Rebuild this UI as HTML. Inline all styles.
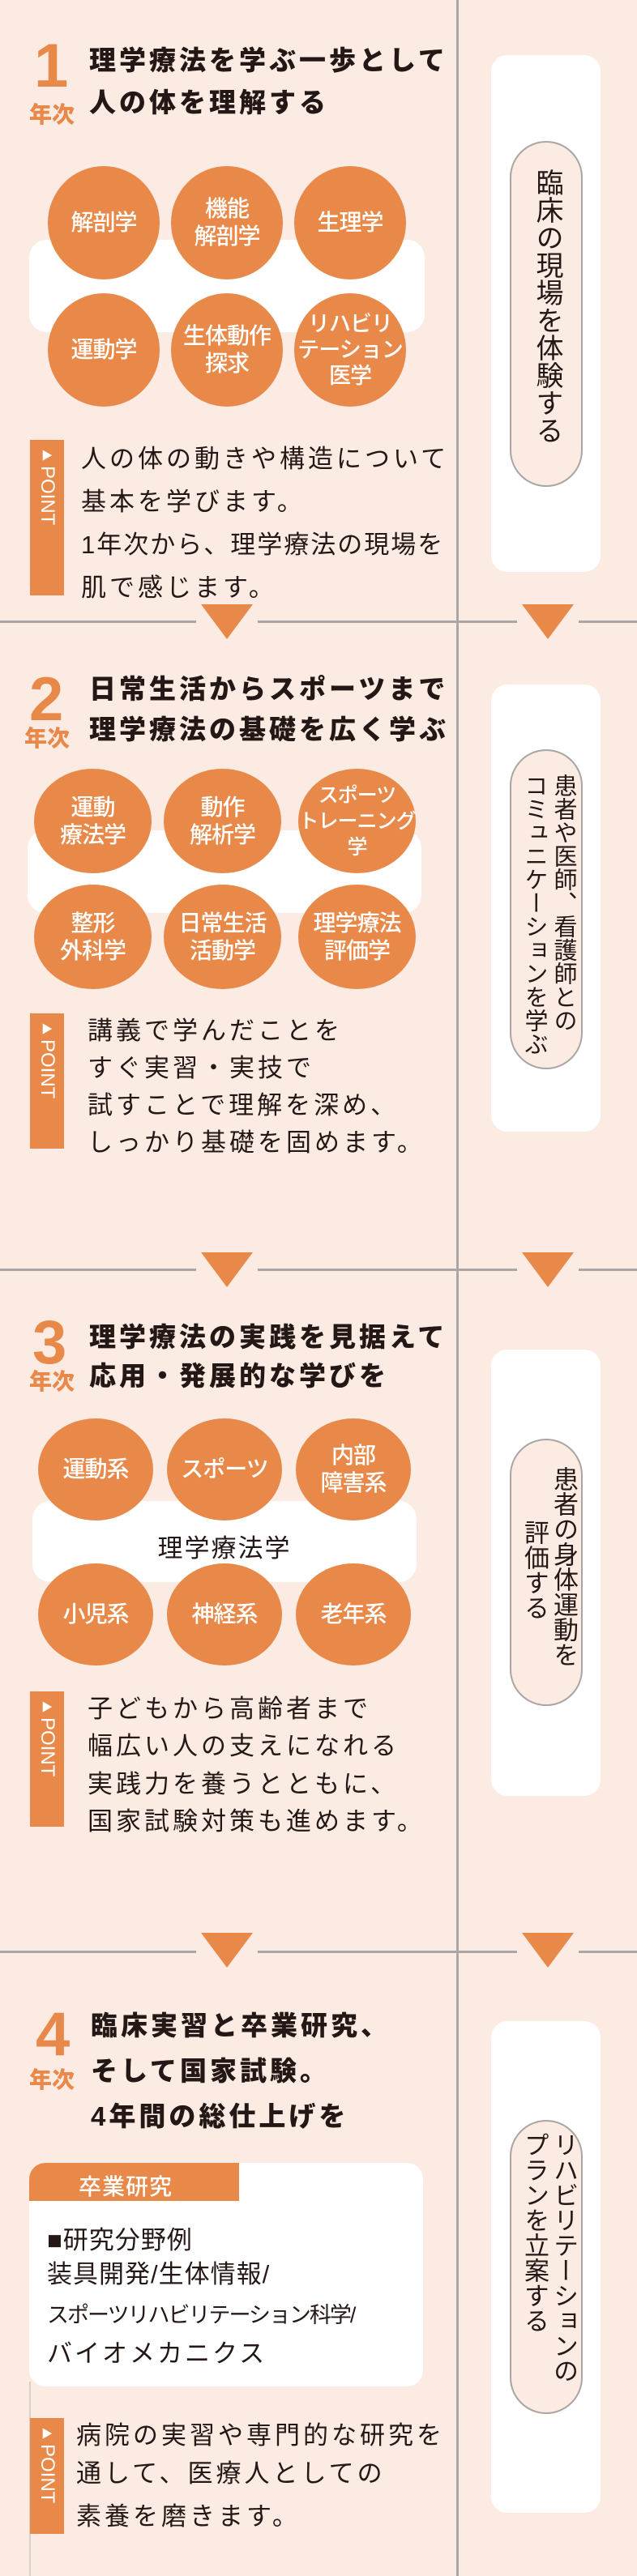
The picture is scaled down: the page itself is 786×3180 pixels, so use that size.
<!DOCTYPE html>
<html><head><meta charset="utf-8"><style>
*{margin:0;padding:0;box-sizing:border-box}
body{width:786px;height:3180px;background:#fcebe3;position:relative;overflow:hidden;font-family:"Liberation Sans","Noto Sans CJK JP",sans-serif;color:#231815}
.a{position:absolute}
.vd{position:absolute;left:563px;top:0;width:3px;height:3180px;background:#a9a6a5}
.hl{position:absolute;left:0;width:786px;height:3px;background:#a9a6a5}
.tri{position:absolute;width:0;height:0;border-left:32px solid transparent;border-right:32px solid transparent;border-top:43px solid #e8894a}
.trib{position:absolute;width:76px;height:48px;background:#fcebe3}
.num{position:absolute;color:#e8894a;font-weight:700;font-size:76px;line-height:1;font-family:"Liberation Sans",sans-serif}
.nen{position:absolute;color:#e8894a;font-weight:900;font-size:28px;line-height:1}
.tt{position:absolute;left:110px;font-weight:900;font-size:33px;letter-spacing:4px;line-height:1;white-space:nowrap}
.band{position:absolute;background:#fff;border-radius:22px}
.c{position:absolute;background:#e8894a;border-radius:50%;color:#fff;display:flex;align-items:center;justify-content:center;text-align:center;font-size:28px;line-height:34px;font-weight:500;white-space:nowrap;letter-spacing:-1px}
.pt{position:absolute;left:37px;width:42px;background:#e8894a;color:#fff;writing-mode:vertical-rl;font-size:24px;padding-top:12px;display:flex;align-items:center;line-height:42px}
.pt span{font-size:14px;margin-bottom:6px}
.tx{position:absolute;font-size:31px;letter-spacing:4px;white-space:nowrap}
.card{position:absolute;left:606px;width:135px;background:#fff;border-radius:20px}
.pill{position:absolute;left:629px;width:90px;border:2px solid #a8a5a3;border-radius:45px;background:#fcebe3}
.vt{position:absolute;writing-mode:vertical-rl;font-size:31px;width:34px;line-height:34px;white-space:nowrap}
</style></head><body>
<div class="vd"></div>

<div class="hl" style="top:766px"></div>
<div class="hl" style="top:1566px"></div>
<div class="hl" style="top:2408px"></div>
<div class="trib" style="left:242px;top:745px"></div><div class="tri" style="left:248px;top:746px"></div>
<div class="trib" style="left:638px;top:745px"></div><div class="tri" style="left:644px;top:746px"></div>
<div class="trib" style="left:242px;top:1545px"></div><div class="tri" style="left:248px;top:1546px"></div>
<div class="trib" style="left:638px;top:1545px"></div><div class="tri" style="left:644px;top:1546px"></div>
<div class="trib" style="left:242px;top:2385px"></div><div class="tri" style="left:248px;top:2386px"></div>
<div class="trib" style="left:638px;top:2385px"></div><div class="tri" style="left:644px;top:2386px"></div>

<!-- Section 1 -->
<div class="num" style="left:42px;top:44px">1</div>
<div class="nen" style="left:36px;top:128px">年次</div>
<div class="tt" style="top:58px">理学療法を学ぶ一歩として</div>
<div class="tt" style="top:110px">人の体を理解する</div>
<div class="band" style="left:36px;top:296px;width:488px;height:114px"></div>
<div class="c" style="left:59px;top:205px;width:138px;height:140px">解剖学</div>
<div class="c" style="left:211px;top:205px;width:138px;height:140px">機能<br>解剖学</div>
<div class="c" style="left:363px;top:205px;width:138px;height:140px">生理学</div>
<div class="c" style="left:59px;top:362px;width:138px;height:140px">運動学</div>
<div class="c" style="left:211px;top:362px;width:138px;height:140px">生体動作<br>探求</div>
<div class="c" style="left:363px;top:362px;width:138px;height:140px;line-height:32px;font-size:27px">リハビリ<br>テーション<br>医学</div>
<div class="pt" style="top:543px;height:192px"><span>▶</span>POINT</div>
<div class="tx" style="left:100px;top:541px">人の体の動きや構造について</div>
<div class="tx" style="left:100px;top:594px">基本を学びます。</div>
<div class="tx" style="left:100px;top:647px;letter-spacing:2px">1年次から、理学療法の現場を</div>
<div class="tx" style="left:100px;top:700px">肌で感じます。</div>
<div class="card" style="top:68px;height:638px"></div>
<div class="pill" style="top:174px;height:427px"></div>
<div class="vt" style="left:656px;top:208px;font-size:34px;width:38px;line-height:38px">臨床の現場を体験する</div>

<!-- Section 2 -->
<div class="num" style="left:36px;top:826px">2</div>
<div class="nen" style="left:30px;top:898px">年次</div>
<div class="tt" style="top:834px">日常生活からスポーツまで</div>
<div class="tt" style="top:884px">理学療法の基礎を広く学ぶ</div>
<div class="band" style="left:34px;top:1025px;width:486px;height:102px"></div>
<div class="c" style="left:42px;top:949px;width:145px;height:129px">運動<br>療法学</div>
<div class="c" style="left:202px;top:949px;width:145px;height:129px">動作<br>解析学</div>
<div class="c" style="left:368px;top:949px;width:145px;height:129px;line-height:32px;font-size:25px">スポーツ<br>トレーニング<br>学</div>
<div class="c" style="left:42px;top:1092px;width:145px;height:129px">整形<br>外科学</div>
<div class="c" style="left:202px;top:1092px;width:145px;height:129px">日常生活<br>活動学</div>
<div class="c" style="left:368px;top:1092px;width:145px;height:129px">理学療法<br>評価学</div>
<div class="pt" style="top:1251px;height:167px"><span>▶</span>POINT</div>
<div class="tx" style="left:108px;top:1247px">講義で学んだことを</div>
<div class="tx" style="left:108px;top:1293px">すぐ実習・実技で</div>
<div class="tx" style="left:108px;top:1339px">試すことで理解を深め、</div>
<div class="tx" style="left:108px;top:1385px">しっかり基礎を固めます。</div>
<div class="card" style="top:845px;height:552px"></div>
<div class="pill" style="top:925px;height:395px"></div>
<div class="vt" style="left:678px;top:955px;font-size:29px;line-height:34px">患者や医師、看護師との</div>
<div class="vt" style="left:642px;top:955px;font-size:29px;line-height:34px">コミュニケーションを学ぶ</div>

<!-- Section 3 -->
<div class="num" style="left:40px;top:1620px">3</div>
<div class="nen" style="left:36px;top:1692px">年次</div>
<div class="tt" style="top:1634px">理学療法の実践を見据えて</div>
<div class="tt" style="top:1682px">応用・発展的な学びを</div>
<div class="band" style="left:40px;top:1853px;width:474px;height:100px"></div>
<div class="a" style="left:40px;top:1886px;width:474px;text-align:center;font-size:31px;letter-spacing:2px">理学療法学</div>
<div class="c" style="left:47px;top:1751px;width:142px;height:126px">運動系</div>
<div class="c" style="left:206px;top:1751px;width:142px;height:126px">スポーツ</div>
<div class="c" style="left:365px;top:1751px;width:142px;height:126px">内部<br>障害系</div>
<div class="c" style="left:47px;top:1930px;width:142px;height:126px">小児系</div>
<div class="c" style="left:206px;top:1930px;width:142px;height:126px">神経系</div>
<div class="c" style="left:365px;top:1930px;width:142px;height:126px">老年系</div>
<div class="pt" style="top:2088px;height:167px"><span>▶</span>POINT</div>
<div class="tx" style="left:108px;top:2084px">子どもから高齢者まで</div>
<div class="tx" style="left:108px;top:2130px">幅広い人の支えになれる</div>
<div class="tx" style="left:108px;top:2177px">実践力を養うとともに、</div>
<div class="tx" style="left:108px;top:2223px">国家試験対策も進めます。</div>
<div class="card" style="top:1666px;height:551px"></div>
<div class="pill" style="top:1776px;height:330px"></div>
<div class="vt" style="left:678px;top:1810px">患者の身体運動を</div>
<div class="vt" style="left:642px;top:1876px">評価する</div>

<!-- Section 4 -->
<div class="num" style="left:44px;top:2474px">4</div>
<div class="nen" style="left:36px;top:2554px">年次</div>
<div class="tt" style="left:112px;top:2484px">臨床実習と卒業研究、</div>
<div class="tt" style="left:112px;top:2540px">そして国家試験。</div>
<div class="tt" style="left:112px;top:2596px">4年間の総仕上げを</div>
<div class="a" style="left:36px;top:2940px;width:2px;height:240px;background:#d8cfcb"></div>
<div class="band" style="left:36px;top:2670px;width:486px;height:276px;border-radius:20px"></div>
<div class="a" style="left:36px;top:2670px;width:259px;height:47px;background:#e8894a;border-top-left-radius:20px"></div>
<div class="a" style="left:97px;top:2678px;color:#fff;font-size:28px;font-weight:500;letter-spacing:1px">卒業研究</div>
<div class="tx" style="left:58px;top:2740px;letter-spacing:1px">■研究分野例</div>
<div class="tx" style="left:58px;top:2782px;letter-spacing:1px">装具開発/生体情報/</div>
<div class="tx" style="left:58px;top:2836px;letter-spacing:-2px;font-size:27px">スポーツリハビリテーション科学/</div>
<div class="tx" style="left:58px;top:2880px;letter-spacing:3px">バイオメカニクス</div>
<div class="pt" style="top:2985px;height:143px"><span>▶</span>POINT</div>
<div class="tx" style="left:94px;top:2981px">病院の実習や専門的な研究を</div>
<div class="tx" style="left:94px;top:3028px">通して、医療人としての</div>
<div class="tx" style="left:94px;top:3081px">素養を磨きます。</div>
<div class="card" style="top:2495px;height:607px"></div>
<div class="pill" style="top:2617px;height:363px"></div>
<div class="vt" style="left:678px;top:2632px">リハビリテーションの</div>
<div class="vt" style="left:642px;top:2632px">プランを立案する</div>
</body></html>
